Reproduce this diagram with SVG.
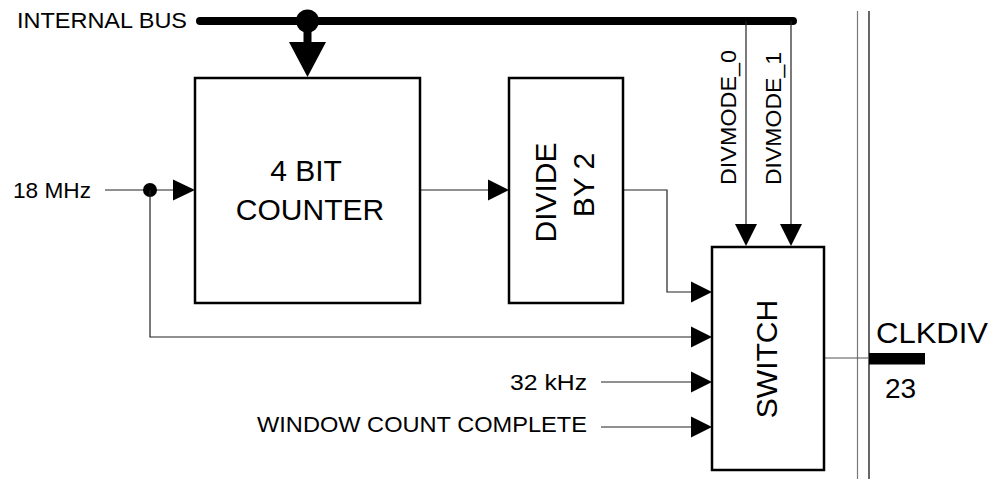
<svg xmlns="http://www.w3.org/2000/svg" width="990" height="479" viewBox="0 0 990 479">
<style>
text{font-family:"Liberation Sans",Arial,sans-serif;fill:#000}
.s{font-size:22.5px}
.b{font-size:30px}
.box{fill:#fff;stroke:#000;stroke-width:2.5}
.w{fill:none;stroke:#222;stroke-width:1.2}
.ah{fill:#000}
</style>
<rect width="990" height="479" fill="#fff"/>
<g id="connectors">
<line x1="200" y1="21" x2="793" y2="21" stroke="#000" stroke-width="8" stroke-linecap="round"/>
<circle cx="307.5" cy="21" r="11.5" fill="#000"/>
<rect x="303.5" y="21" width="8" height="22" fill="#000"/>
<polygon class="ah" points="289,42 326,42 307.5,77"/>
<polyline class="w" points="105,190 175,190"/>
<circle cx="150" cy="190" r="7" fill="#000"/>
<polygon class="ah" points="173,179.5 173,200.5 195,190"/>
<polyline class="w" points="150,190 150,337 693,337"/>
<polyline class="w" points="420,190 490,190"/>
<polygon class="ah" points="488,179.5 488,200.5 509,190"/>
<polyline class="w" points="623,190 667,190 667,292 693,292"/>
<polyline class="w" points="601,382 693,382"/>
<polyline class="w" points="601,427 693,427"/>
<polygon class="ah" points="691,281.5 691,302.5 712,292"/>
<polygon class="ah" points="691,326.5 691,347.5 712,337"/>
<polygon class="ah" points="691,371.5 691,392.5 712,382"/>
<polygon class="ah" points="691,416.5 691,437.5 712,427"/>
<line class="w" x1="746" y1="21" x2="746" y2="226"/>
<line class="w" x1="791" y1="21" x2="791" y2="226"/>
<polygon class="ah" points="735,224 757,224 746,246"/>
<polygon class="ah" points="780,224 802,224 791,246"/>
<line x1="857.5" y1="11" x2="857.5" y2="479" stroke="#777" stroke-width="1.2"/>
<line x1="869" y1="11" x2="869" y2="479" stroke="#000" stroke-width="1.2"/>
<line x1="824" y1="358" x2="869" y2="358" stroke="#555" stroke-width="1.2"/>
<rect x="869" y="353" width="56" height="11.5" fill="#000"/>
</g>
<g id="internal-bus-label"><text class="s" x="17" y="28" textLength="170" lengthAdjust="spacingAndGlyphs">INTERNAL BUS</text></g>
<g id="in-18mhz"><text class="s" x="13" y="198" textLength="78" lengthAdjust="spacingAndGlyphs">18 MHz</text></g>
<g id="in-32khz"><text class="s" x="510" y="390" textLength="77" lengthAdjust="spacingAndGlyphs">32 kHz</text></g>
<g id="in-window"><text class="s" x="257" y="432" textLength="330" lengthAdjust="spacingAndGlyphs">WINDOW COUNT COMPLETE</text></g>
<g id="counter">
<rect class="box" x="195" y="78" width="225" height="225"/>
<text class="b" x="306" y="181" text-anchor="middle">4 BIT</text>
<text class="b" x="310" y="220" text-anchor="middle">COUNTER</text>
</g>
<g id="divide">
<rect class="box" x="509" y="78" width="114" height="225"/>
<text class="b" transform="translate(556,192.5) rotate(-90)" text-anchor="middle">DIVIDE</text>
<text class="b" transform="translate(594,185) rotate(-90)" text-anchor="middle">BY 2</text>
</g>
<g id="switch">
<rect class="box" x="712" y="247" width="112" height="223"/>
<text class="b" transform="translate(777,359) rotate(-90)" text-anchor="middle">SWITCH</text>
</g>
<g id="divmode0"><text class="s" transform="translate(736,185) rotate(-90)" textLength="135" lengthAdjust="spacingAndGlyphs">DIVMODE_0</text></g>
<g id="divmode1"><text class="s" transform="translate(781,185) rotate(-90)" textLength="133" lengthAdjust="spacingAndGlyphs">DIVMODE_1</text></g>
<g id="clkdiv">
<text x="876" y="343" font-size="30" textLength="112" lengthAdjust="spacingAndGlyphs">CLKDIV</text>
<text x="885" y="398" font-size="28">23</text>
</g>
</svg>
